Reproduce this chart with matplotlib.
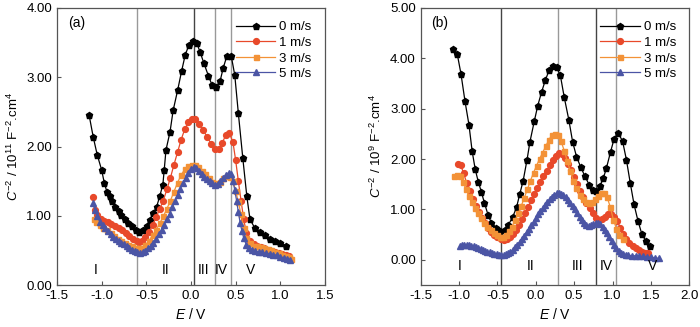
import matplotlib
matplotlib.use("Agg")
import matplotlib.pyplot as plt
import numpy as np

plt.rcParams['font.family'] = ['Liberation Sans', 'DejaVu Sans']
plt.rcParams['mathtext.fontset'] = 'custom'
plt.rcParams['mathtext.rm'] = 'Liberation Sans'
plt.rcParams['mathtext.it'] = 'Liberation Sans:italic'

# ---------------- Panel (a) data ----------------
a_E0 = [-1.14, -1.095, -1.05, -1.00, -0.97, -0.94, -0.91, -0.88, -0.85, -0.81, -0.78, -0.74, -0.70, -0.66,
        -0.62, -0.58, -0.535, -0.495, -0.46, -0.42, -0.385, -0.35, -0.315, -0.30, -0.28, -0.235, -0.20, -0.15,
        -0.105, -0.065, -0.025, 0.02, 0.065, 0.10, 0.145, 0.195, 0.235, 0.28, 0.325, 0.36, 0.40, 0.45, 0.49,
        0.53, 0.58, 0.625, 0.66, 0.715, 0.77, 0.83, 0.885, 0.94, 1.00, 1.06]
a_V0 = [2.45, 2.14, 1.88, 1.66, 1.47, 1.34, 1.28, 1.21, 1.13, 1.07, 1.01, 0.96, 0.90, 0.85,
        0.79, 0.77, 0.79, 0.85, 0.94, 1.04, 1.13, 1.28, 1.45, 1.66, 1.95, 2.21, 2.52, 2.81,
        3.09, 3.32, 3.46, 3.53, 3.49, 3.37, 3.20, 3.02, 2.89, 2.86, 2.94, 3.13, 3.30, 3.31, 3.03,
        2.48, 1.83, 1.28, 0.95, 0.82, 0.77, 0.72, 0.67, 0.635, 0.60, 0.57]

a_E1 = [-1.10, -1.075, -1.05, -1.01, -0.97, -0.93, -0.89, -0.85, -0.81, -0.77, -0.73, -0.69, -0.65, -0.61,
        -0.58, -0.55, -0.51, -0.47, -0.43, -0.39, -0.35, -0.31, -0.27, -0.23, -0.19, -0.15, -0.11, -0.07,
        -0.03, 0.01, 0.045, 0.09, 0.135, 0.18, 0.225, 0.27, 0.31, 0.35, 0.39, 0.43, 0.47, 0.50, 0.53, 0.56,
        0.59, 0.62, 0.66, 0.70, 0.74, 0.78, 0.82, 0.86, 0.90, 0.94, 0.98, 1.02, 1.06, 1.10]
a_V1 = [1.27, 1.09, 1.01, 0.96, 0.93, 0.91, 0.88, 0.85, 0.82, 0.79, 0.75, 0.71, 0.67, 0.64,
        0.62, 0.64, 0.69, 0.76, 0.86, 0.98, 1.10, 1.22, 1.38, 1.55, 1.74, 1.92, 2.10, 2.25,
        2.35, 2.40, 2.40, 2.33, 2.24, 2.14, 2.04, 1.96, 1.96, 2.05, 2.17, 2.19, 2.06, 1.80, 1.50, 1.22,
        0.95, 0.75, 0.63, 0.59, 0.57, 0.55, 0.53, 0.51, 0.49, 0.47, 0.46, 0.45, 0.43, 0.42]

a_E3 = [-1.09, -1.06, -1.02, -0.98, -0.94, -0.90, -0.86, -0.82, -0.78, -0.74, -0.70, -0.66, -0.62, -0.58,
        -0.55, -0.51, -0.47, -0.43, -0.39, -0.35, -0.31, -0.27, -0.23, -0.19, -0.15, -0.11, -0.07, -0.03,
        0.01, 0.045, 0.08, 0.12, 0.16, 0.20, 0.24, 0.28, 0.32, 0.36, 0.40, 0.44, 0.47, 0.50, 0.53, 0.56,
        0.59, 0.62, 0.66, 0.70, 0.74, 0.78, 0.82, 0.86, 0.90, 0.94, 0.98, 1.02, 1.06, 1.10, 1.12]
a_V3 = [0.96, 0.91, 0.87, 0.83, 0.79, 0.75, 0.71, 0.67, 0.64, 0.61, 0.58, 0.56, 0.54, 0.53,
        0.54, 0.58, 0.64, 0.72, 0.80, 0.89, 0.99, 1.10, 1.22, 1.35, 1.48, 1.59, 1.67, 1.72,
        1.73, 1.73, 1.70, 1.65, 1.60, 1.54, 1.49, 1.47, 1.49, 1.54, 1.57, 1.56, 1.50, 1.36, 1.20, 1.02,
        0.83, 0.68, 0.60, 0.57, 0.56, 0.55, 0.54, 0.52, 0.50, 0.48, 0.46, 0.44, 0.42, 0.40, 0.38]

a_E5 = [-1.10, -1.075, -1.05, -1.02, -0.99, -0.96, -0.93, -0.90, -0.87, -0.84, -0.81, -0.78, -0.75, -0.72,
        -0.69, -0.66, -0.63, -0.60, -0.57, -0.54, -0.51, -0.48, -0.45, -0.42, -0.39, -0.36, -0.33, -0.30,
        -0.27, -0.24, -0.21, -0.18, -0.15, -0.12, -0.09, -0.06, -0.03, 0.00, 0.03, 0.06, 0.09, 0.12, 0.15,
        0.18, 0.21, 0.24, 0.27, 0.30, 0.33, 0.36, 0.39, 0.42, 0.45, 0.47, 0.49, 0.51, 0.53, 0.55, 0.57,
        0.59, 0.62, 0.65, 0.68, 0.72, 0.76, 0.80, 0.84, 0.88, 0.92, 0.96, 1.00, 1.04, 1.08, 1.11]
a_V5 = [1.19, 1.08, 0.99, 0.91, 0.86, 0.82, 0.78, 0.74, 0.70, 0.67, 0.64, 0.61, 0.59, 0.56,
        0.54, 0.51, 0.49, 0.47, 0.46, 0.47, 0.49, 0.53, 0.57, 0.61, 0.67, 0.73, 0.80, 0.87,
        0.95, 1.03, 1.12, 1.21, 1.30, 1.39, 1.47, 1.55, 1.62, 1.67, 1.70, 1.69, 1.65, 1.60, 1.56,
        1.53, 1.50, 1.47, 1.44, 1.46, 1.50, 1.55, 1.59, 1.62, 1.60, 1.50, 1.37, 1.22, 1.05, 0.90, 0.78,
        0.68, 0.58, 0.53, 0.50, 0.49, 0.48, 0.47, 0.46, 0.45, 0.44, 0.43, 0.41, 0.39, 0.37, 0.36]

a_vlines = [-0.60, 0.03, 0.27, 0.45]
a_regions = ["I", "II", "III", "IV", "V"]
a_region_x = [-1.07, -0.28, 0.14, 0.34, 0.67]

# ---------------- Panel (b) data ----------------
b_E0 = [-1.075, -1.023, -0.975, -0.923, -0.871, -0.83, -0.79, -0.75, -0.71, -0.67, -0.62, -0.58, -0.52,
        -0.47, -0.40, -0.36, -0.30, -0.25, -0.21, -0.165, -0.115, -0.077, -0.02, 0.025, 0.075, 0.125,
        0.175, 0.22, 0.27, 0.32, 0.37, 0.43, 0.48, 0.53, 0.585, 0.64, 0.695, 0.745, 0.79, 0.835, 0.88,
        0.92, 0.975, 1.02, 1.07, 1.13, 1.18, 1.23, 1.28, 1.33, 1.38, 1.43, 1.485]
b_V0 = [4.19, 4.08, 3.69, 3.15, 2.68, 2.16, 1.80, 1.55, 1.35, 1.13, 0.88, 0.74, 0.64,
        0.58, 0.60, 0.69, 0.85, 1.05, 1.30, 1.57, 1.98, 2.34, 2.75, 3.06, 3.33, 3.57,
        3.77, 3.84, 3.82, 3.66, 3.23, 2.78, 2.34, 2.05, 1.84, 1.66, 1.49, 1.39, 1.36, 1.46, 1.62,
        1.82, 2.15, 2.40, 2.52, 2.36, 1.99, 1.53, 1.10, 0.78, 0.52, 0.38, 0.28]

b_E1 = [-1.02, -0.98, -0.94, -0.90, -0.86, -0.82, -0.78, -0.74, -0.70, -0.66, -0.62, -0.58, -0.54, -0.50,
        -0.46, -0.42, -0.38, -0.34, -0.30, -0.26, -0.22, -0.18, -0.14, -0.10, -0.06, -0.02, 0.02, 0.06,
        0.10, 0.14, 0.18, 0.22, 0.26, 0.30, 0.34, 0.38, 0.42, 0.46, 0.50, 0.54, 0.58, 0.62, 0.66, 0.70,
        0.74, 0.78, 0.82, 0.86, 0.90, 0.94, 0.98, 1.02, 1.06, 1.10, 1.14, 1.18, 1.22, 1.26, 1.30, 1.34,
        1.38, 1.42, 1.46]
b_V1 = [1.91, 1.88, 1.72, 1.52, 1.36, 1.21, 1.07, 0.94, 0.83, 0.73, 0.64, 0.56, 0.50, 0.45,
        0.41, 0.40, 0.41, 0.45, 0.52, 0.60, 0.70, 0.81, 0.93, 1.05, 1.18, 1.30, 1.42, 1.54,
        1.66, 1.77, 1.88, 1.98, 2.07, 2.13, 2.10, 2.02, 1.91, 1.78, 1.64, 1.50, 1.37, 1.25, 1.13, 1.02,
        0.92, 0.84, 0.80, 0.81, 0.86, 0.91, 0.91, 0.86, 0.77, 0.64, 0.52, 0.42, 0.34, 0.28, 0.23, 0.19,
        0.16, 0.14, 0.13]

b_E3 = [-1.07, -1.03, -0.99, -0.95, -0.91, -0.87, -0.83, -0.79, -0.75, -0.71, -0.67, -0.63, -0.59, -0.55,
        -0.51, -0.47, -0.43, -0.39, -0.35, -0.31, -0.27, -0.23, -0.19, -0.15, -0.11, -0.07, -0.03, 0.01,
        0.05, 0.09, 0.13, 0.17, 0.21, 0.25, 0.29, 0.33, 0.37, 0.41, 0.45, 0.49, 0.53, 0.57, 0.61, 0.65,
        0.69, 0.73, 0.77, 0.81, 0.85, 0.89, 0.93, 0.97, 1.01, 1.05, 1.09, 1.13]
b_V3 = [1.66, 1.68, 1.67, 1.55, 1.40, 1.27, 1.15, 1.03, 0.93, 0.83, 0.74, 0.66, 0.59, 0.53,
        0.49, 0.46, 0.46, 0.50, 0.57, 0.66, 0.79, 0.92, 1.07, 1.23, 1.40, 1.57, 1.73, 1.87,
        2.01, 2.13, 2.26, 2.38, 2.48, 2.50, 2.47, 2.35, 2.17, 1.96, 1.76, 1.57, 1.42, 1.29, 1.20, 1.15,
        1.13, 1.14, 1.20, 1.27, 1.33, 1.32, 1.24, 1.05, 0.80, 0.62, 0.50, 0.42]

b_E5 = [-0.99, -0.96, -0.93, -0.90, -0.87, -0.84, -0.81, -0.78, -0.75, -0.72, -0.69, -0.66, -0.63, -0.60,
        -0.57, -0.54, -0.51, -0.48, -0.45, -0.42, -0.39, -0.36, -0.33, -0.30, -0.27, -0.24, -0.21, -0.18,
        -0.15, -0.12, -0.09, -0.06, -0.03, 0.00, 0.03, 0.06, 0.09, 0.12, 0.15, 0.18, 0.21, 0.24, 0.27,
        0.30, 0.33, 0.36, 0.39, 0.42, 0.45, 0.48, 0.51, 0.54, 0.57, 0.60, 0.63, 0.66, 0.69, 0.72, 0.75,
        0.78, 0.81, 0.84, 0.87, 0.90, 0.93, 0.96, 0.99, 1.02, 1.05, 1.08, 1.11, 1.14, 1.17, 1.20, 1.25,
        1.30, 1.35, 1.40, 1.45, 1.50, 1.55, 1.60]
b_V5 = [0.27, 0.29, 0.30, 0.30, 0.29, 0.28, 0.27, 0.25, 0.24, 0.22, 0.20, 0.18, 0.16, 0.15,
        0.13, 0.12, 0.11, 0.10, 0.10, 0.10, 0.11, 0.13, 0.16, 0.20, 0.25, 0.30, 0.36, 0.42,
        0.48, 0.55, 0.62, 0.69, 0.76, 0.83, 0.90, 0.96, 1.03, 1.09, 1.15, 1.20, 1.25, 1.29, 1.32,
        1.33, 1.31, 1.28, 1.24, 1.19, 1.13, 1.07, 1.00, 0.92, 0.85, 0.79, 0.74, 0.70, 0.68, 0.69, 0.71,
        0.73, 0.73, 0.71, 0.66, 0.60, 0.53, 0.45, 0.37, 0.30, 0.23, 0.18, 0.14, 0.11, 0.10, 0.09, 0.08,
        0.08, 0.07, 0.07, 0.06, 0.05, 0.04, 0.03]

b_vlines = [-0.45, 0.29, 0.78, 1.05]
b_regions = ["I", "II", "III", "IV", "V"]
b_region_x = [-0.99, -0.07, 0.55, 0.92, 1.52]

labels = ["0 m/s", "1 m/s", "3 m/s", "5 m/s"]
colors = ["#000000", "#E8492A", "#F39237", "#4B55A5"]
markers = ["p", "o", "s", "^"]
msizes = [5.0, 4.2, 3.6, 4.2]

fig = plt.figure(figsize=(7.0, 3.27), dpi=100)
axA = fig.add_axes([57/700, 1-285/327, (325-57)/700, (285-8)/327])
axB = fig.add_axes([420.7/700, 1-285/327, (689.3-420.7)/700, (285-8)/327])

def draw(ax, series, vlines, vcolors, regions, region_x, region_y, ylim, xlim, yticks, xticks,
         ylabel, tag):
    for vx, vc in zip(vlines, vcolors):
        ax.axvline(vx, color=vc, lw=1.0, zorder=1)
    for (E, V), lab, c, m, ms in zip(series, labels, colors, markers, msizes):
        ax.plot(E, V, color=c, lw=0.9, marker=m, ms=ms, mec=c, mfc=c, label=lab, zorder=3)
    for r, x in zip(regions, region_x):
        ax.text(x, region_y, r, ha='center', va='center', fontsize=10)
    ax.set_xlim(*xlim)
    ax.set_ylim(*ylim)
    ax.set_xticks(xticks)
    ax.set_yticks(yticks)
    ax.set_xticklabels([f"{t:.1f}" for t in xticks])
    ax.set_yticklabels([f"{t:.2f}" for t in yticks])
    ax.tick_params(direction='in', length=3, labelsize=9.5, color='#555555')
    for s in ax.spines.values():
        s.set_color('#555555')
        s.set_linewidth(0.9)
    ax.set_xlabel(r"$E$ / V", fontsize=10, labelpad=4)
    ax.set_ylabel(ylabel, fontsize=9.5, labelpad=4)
    ax.text(0.04, 0.945, tag, transform=ax.transAxes, fontsize=10, ha='left', va='center')
    ax.legend(loc='upper right', frameon=False, fontsize=9.5, handlelength=3.0,
              handletextpad=0.3, labelspacing=0.25, borderaxespad=0.6)

draw(axA, [(a_E0, a_V0), (a_E1, a_V1), (a_E3, a_V3), (a_E5, a_V5)],
     a_vlines, ['#999999', '#444444', '#999999', '#999999'],
     a_regions, a_region_x, 0.22, (0, 4), (-1.5, 1.5),
     [0, 1, 2, 3, 4], [-1.5, -1.0, -0.5, 0.0, 0.5, 1.0, 1.5],
     r"$C^{-2}$ / 10$^{11}$ F$^{-2}$.cm$^{4}$", "(a)")
draw(axB, [(b_E0, b_V0), (b_E1, b_V1), (b_E3, b_V3), (b_E5, b_V5)],
     b_vlines, ['#444444', '#999999', '#444444', '#999999'],
     b_regions, b_region_x, -0.12, (-0.5, 5), (-1.5, 2.0),
     [0, 1, 2, 3, 4, 5], [-1.5, -1.0, -0.5, 0.0, 0.5, 1.0, 1.5, 2.0],
     r"$C^{-2}$ / 10$^{9}$ F$^{-2}$.cm$^{4}$", "(b)")

fig.savefig("out.png", dpi=100)
